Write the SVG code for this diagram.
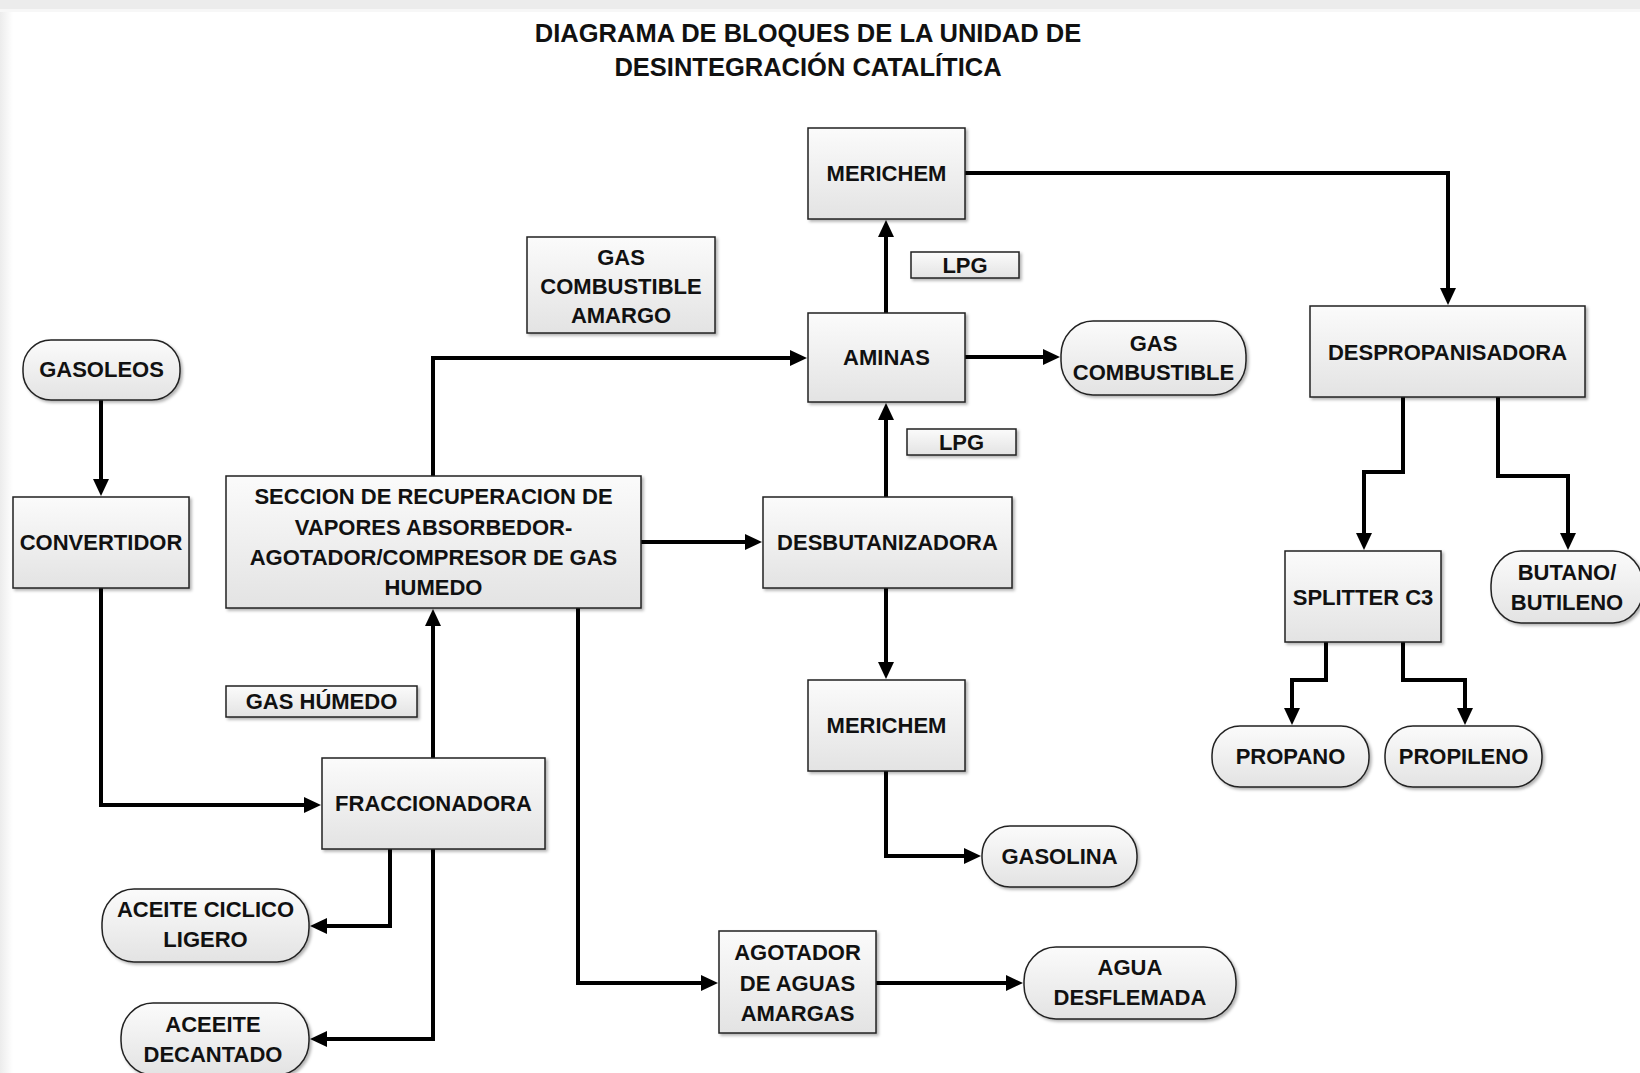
<svg xmlns="http://www.w3.org/2000/svg" width="1640" height="1073" viewBox="0 0 1640 1073">
<defs>
<linearGradient id="g" x1="0" y1="0" x2="0" y2="1">
<stop offset="0" stop-color="#fbfbfb"/>
<stop offset="1" stop-color="#e3e3e3"/>
</linearGradient>
<linearGradient id="edge" x1="0" y1="0" x2="1" y2="0">
<stop offset="0" stop-color="#ececec"/>
<stop offset="1" stop-color="#ffffff"/>
</linearGradient>
<filter id="sh" x="-10%" y="-10%" width="130%" height="130%">
<feDropShadow dx="2" dy="2" stdDeviation="1.5" flood-color="#000" flood-opacity="0.3"/>
</filter>
<marker id="ah" viewBox="0 0 17 16" markerWidth="17" markerHeight="16" refX="7" refY="8" orient="auto" markerUnits="userSpaceOnUse">
<path d="M0,0 L17,8 L0,16 z" fill="#000"/>
</marker>
</defs>
<style>
.box{fill:url(#g);stroke:#222;stroke-width:1.5;filter:url(#sh)}
.t{font-family:"Liberation Sans",Arial,sans-serif;font-weight:bold;font-size:22px;fill:#111;text-anchor:middle}
.title{font-family:"Liberation Sans",Arial,sans-serif;font-weight:bold;font-size:25.5px;fill:#111;text-anchor:middle}
.c{fill:none;stroke:#000;stroke-width:4;marker-end:url(#ah)}
</style>
<rect x="0" y="0" width="1640" height="1073" fill="#fff"/>
<rect x="0" y="0" width="13" height="1073" fill="url(#edge)"/>
<rect x="0" y="0" width="1640" height="9" fill="#ececec"/>
<rect x="0" y="9" width="1640" height="3" fill="#f7f7f7"/>

<g id="title">
<text class="title" x="808" y="42">DIAGRAMA DE BLOQUES DE LA UNIDAD DE</text>
<text class="title" x="808" y="76">DESINTEGRACIÓN CATALÍTICA</text>
</g>

<g id="connectors">
<path class="c" d="M101,400 V486"/>
<path class="c" d="M101,588 V805 H311"/>
<path class="c" d="M433,758 V619"/>
<path class="c" d="M433,476 V358 H797"/>
<path class="c" d="M641,542 H752"/>
<path class="c" d="M578,608 V983 H708"/>
<path class="c" d="M886,497 V413"/>
<path class="c" d="M886,313 V230"/>
<path class="c" d="M965,357 H1050"/>
<path class="c" d="M965,173 H1448 V295"/>
<path class="c" d="M886,588 V669"/>
<path class="c" d="M886,771 V856 H971"/>
<path class="c" d="M390,849 V926 H320"/>
<path class="c" d="M433,849 V1039 H320"/>
<path class="c" d="M876,983 H1013"/>
<path class="c" d="M1403,397 V472 H1364 V540"/>
<path class="c" d="M1498,397 V476 H1568 V540"/>
<path class="c" d="M1326,642 V680 H1292 V715"/>
<path class="c" d="M1403,642 V680 H1465 V715"/>
</g>

<g id="gasoleos"><rect class="box" x="23" y="340" width="157" height="60" rx="28" ry="28"/><text class="t" x="101.5" y="377">GASOLEOS</text></g>
<g id="convertidor"><rect class="box" x="13" y="497" width="176" height="91"/><text class="t" x="101" y="550">CONVERTIDOR</text></g>
<g id="seccion"><rect class="box" x="226" y="476" width="415" height="132"/>
<text class="t" x="433.5" y="504">SECCION DE RECUPERACION DE</text>
<text class="t" x="433.5" y="535">VAPORES ABSORBEDOR-</text>
<text class="t" x="433.5" y="565">AGOTADOR/COMPRESOR DE GAS</text>
<text class="t" x="433.5" y="595">HUMEDO</text></g>
<g id="gas-combustible-amargo"><rect class="box" x="527" y="237" width="188" height="96"/>
<text class="t" x="621" y="265">GAS</text>
<text class="t" x="621" y="294">COMBUSTIBLE</text>
<text class="t" x="621" y="323">AMARGO</text></g>
<g id="merichem-top"><rect class="box" x="808" y="128" width="157" height="91"/><text class="t" x="886.5" y="181">MERICHEM</text></g>
<g id="lpg-top"><rect class="box" x="911" y="252" width="108" height="26"/><text class="t" x="965" y="273">LPG</text></g>
<g id="aminas"><rect class="box" x="808" y="313" width="157" height="89"/><text class="t" x="886.5" y="365">AMINAS</text></g>
<g id="gas-combustible"><rect class="box" x="1061" y="321" width="185" height="74" rx="32" ry="34"/>
<text class="t" x="1153.5" y="351">GAS</text>
<text class="t" x="1153.5" y="380">COMBUSTIBLE</text></g>
<g id="despropanisadora"><rect class="box" x="1310" y="306" width="275" height="91"/><text class="t" x="1447.5" y="360">DESPROPANISADORA</text></g>
<g id="lpg-bottom"><rect class="box" x="907" y="429" width="109" height="26"/><text class="t" x="961.5" y="450">LPG</text></g>
<g id="desbutanizadora"><rect class="box" x="763" y="497" width="249" height="91"/><text class="t" x="887.5" y="550">DESBUTANIZADORA</text></g>
<g id="gas-humedo"><rect class="box" x="226" y="686" width="191" height="31"/><text class="t" x="321.5" y="709">GAS HÚMEDO</text></g>
<g id="fraccionadora"><rect class="box" x="322" y="758" width="223" height="91"/><text class="t" x="433.5" y="811">FRACCIONADORA</text></g>
<g id="merichem-bottom"><rect class="box" x="808" y="680" width="157" height="91"/><text class="t" x="886.5" y="733">MERICHEM</text></g>
<g id="splitter-c3"><rect class="box" x="1285" y="551" width="156" height="91"/><text class="t" x="1363" y="605">SPLITTER C3</text></g>
<g id="butano-butileno"><rect class="box" x="1491" y="551" width="152" height="72" rx="30" ry="34"/>
<text class="t" x="1567" y="580">BUTANO/</text>
<text class="t" x="1567" y="610">BUTILENO</text></g>
<g id="propano"><rect class="box" x="1212" y="726" width="157" height="61" rx="28" ry="29"/><text class="t" x="1290.5" y="764">PROPANO</text></g>
<g id="propileno"><rect class="box" x="1385" y="726" width="157" height="61" rx="28" ry="29"/><text class="t" x="1463.5" y="764">PROPILENO</text></g>
<g id="gasolina"><rect class="box" x="982" y="826" width="155" height="61" rx="28" ry="29"/><text class="t" x="1059.5" y="864">GASOLINA</text></g>
<g id="aceite-ciclico-ligero"><rect class="box" x="102" y="889" width="207" height="73" rx="32" ry="34"/>
<text class="t" x="205.5" y="917">ACEITE CICLICO</text>
<text class="t" x="205.5" y="947">LIGERO</text></g>
<g id="aceeite-decantado"><rect class="box" x="121" y="1003" width="188" height="72" rx="32" ry="34"/>
<text class="t" x="213" y="1032">ACEEITE</text>
<text class="t" x="213" y="1062">DECANTADO</text></g>
<g id="agotador"><rect class="box" x="719" y="931" width="157" height="102"/>
<text class="t" x="797.5" y="960">AGOTADOR</text>
<text class="t" x="797.5" y="991">DE AGUAS</text>
<text class="t" x="797.5" y="1021">AMARGAS</text></g>
<g id="agua-desflemada"><rect class="box" x="1024" y="947" width="212" height="72" rx="32" ry="34"/>
<text class="t" x="1130" y="975">AGUA</text>
<text class="t" x="1130" y="1005">DESFLEMADA</text></g>
</svg>
